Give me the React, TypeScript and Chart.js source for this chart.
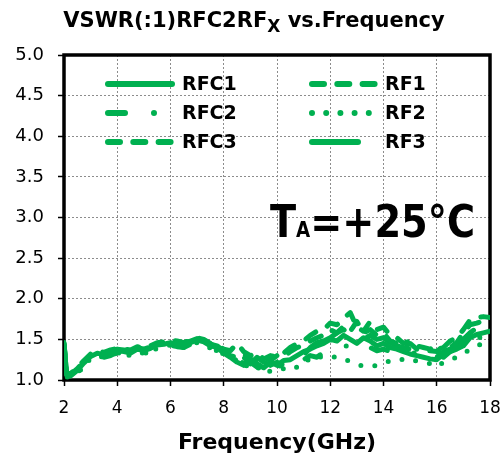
import React, { useEffect, useRef } from "react";
import { Chart, registerables } from "chart.js";

Chart.register(...registerables);

const FREQ = [2.0, 2.1, 2.25, 2.5, 2.75, 3.0, 3.25, 3.5, 3.75, 4.0, 4.25, 4.5, 4.75, 5.0, 5.25, 5.5, 5.75, 6.0, 6.25, 6.5, 6.75, 7.0, 7.25, 7.5, 7.75, 8.0, 8.25, 8.5, 8.75, 9.0, 9.25, 9.5, 9.75, 10.0, 10.25, 10.5, 10.75, 11.0, 11.25, 11.5, 11.75, 12.0, 12.25, 12.5, 12.75, 13.0, 13.25, 13.5, 13.75, 14.0, 14.25, 14.5, 14.75, 15.0, 15.25, 15.5, 15.75, 16.0, 16.25, 16.5, 16.75, 17.0, 17.25, 17.5, 17.75, 18.0];

const RFC1 = [1.45, 1.06, 1.05, 1.12, 1.21, 1.29, 1.33, 1.31, 1.34, 1.36, 1.35, 1.33, 1.38, 1.36, 1.39, 1.43, 1.44, 1.46, 1.45, 1.43, 1.46, 1.49, 1.47, 1.42, 1.40,
  1.33, 1.28, 1.22, 1.18, 1.25, 1.20, 1.15, 1.22, 1.18, 1.24, 1.25, 1.30, 1.35, 1.38, 1.42, 1.45, 1.50, 1.48, 1.55, 1.50, 1.45, 1.52, 1.48, 1.42, 1.45, 1.40, 1.38, 1.35, 1.32, 1.30, 1.28, 1.26, 1.25, 1.32, 1.35, 1.38, 1.42, 1.52, 1.56, 1.58, 1.60];
const RFC2 = [1.40, 1.04, 1.03, 1.08, 1.17, 1.26, 1.31, 1.28, 1.30, 1.34, 1.31, 1.30, 1.35, 1.32, 1.36, 1.40, 1.42, 1.43, 1.41, 1.40, 1.44, 1.46, 1.43, 1.38, 1.36,
  1.34, 1.30, 1.26, 1.20, 1.22, 1.16, 1.20, 1.25, 1.15, 1.20, 1.22, 1.18, 1.25, 1.30, 1.28, 1.34, 1.38, 1.42, 1.40, 1.45, 1.38, 1.42, 1.40, 1.36, 1.38, 1.35, 1.32, 1.30, 1.35, 1.32, 1.28, 1.30, 1.32, 1.28, 1.35, 1.40, 1.38, 1.45, 1.50, 1.55, 1.55];
const RFC3 = [1.46, 1.08, 1.08, 1.15, 1.24, 1.32, 1.36, 1.34, 1.37, 1.39, 1.38, 1.37, 1.41, 1.39, 1.42, 1.46, 1.47, 1.49, 1.48, 1.46, 1.49, 1.52, 1.50, 1.45, 1.43,
  1.38, 1.36, 1.45, 1.35, 1.30, 1.33, 1.26, 1.30, 1.28, 1.33, 1.40, 1.45, 1.48, 1.55, 1.60, 1.62, 1.70, 1.68, 1.76, 1.83, 1.65, 1.60, 1.72, 1.62, 1.65, 1.55, 1.52, 1.45, 1.48, 1.42, 1.40, 1.38, 1.42, 1.40, 1.48, 1.52, 1.62, 1.74, 1.77, 1.78, 1.77];
const RF1 = [1.43, 1.07, 1.06, 1.13, 1.23, 1.30, 1.34, 1.33, 1.35, 1.38, 1.36, 1.35, 1.40, 1.37, 1.41, 1.44, 1.46, 1.48, 1.46, 1.45, 1.48, 1.50, 1.48, 1.44, 1.42,
  1.35, 1.30, 1.28, 1.32, 1.26, 1.22, 1.28, 1.24, 1.30, 1.28, 1.35, 1.40, 1.42, 1.48, 1.52, 1.55, 1.62, 1.58, 1.66, 1.60, 1.72, 1.58, 1.62, 1.55, 1.58, 1.48, 1.45, 1.40, 1.45, 1.38, 1.35, 1.36, 1.35, 1.42, 1.40, 1.46, 1.58, 1.68, 1.70, 1.73, 1.74];
const RF2 = [1.38, 1.04, 1.03, 1.09, 1.18, 1.26, 1.30, 1.28, 1.31, 1.33, 1.32, 1.30, 1.34, 1.33, 1.35, 1.39, 1.41, 1.43, 1.42, 1.40, 1.43, 1.46, 1.44, 1.39, 1.36,
  1.32, 1.28, 1.24, 1.16, 1.20, 1.14, 1.18, 1.10, 1.12, 1.14, 1.12, 1.16, 1.18, 1.28, 1.30, 1.27, 1.29, 1.28, 1.27, 1.22, 1.19, 1.17, 1.16, 1.18, 1.20, 1.24, 1.26, 1.25, 1.22, 1.24, 1.22, 1.20, 1.16, 1.22, 1.25, 1.28, 1.32, 1.38, 1.42, 1.45, 1.47];
const RF3 = [1.44, 1.07, 1.07, 1.14, 1.23, 1.31, 1.35, 1.33, 1.36, 1.38, 1.37, 1.36, 1.40, 1.38, 1.41, 1.45, 1.46, 1.48, 1.47, 1.45, 1.48, 1.51, 1.49, 1.44, 1.42,
  1.36, 1.32, 1.25, 1.28, 1.20, 1.28, 1.22, 1.18, 1.22, 1.18, 1.28, 1.32, 1.30, 1.40, 1.46, 1.48, 1.52, 1.58, 1.62, 1.56, 1.60, 1.50, 1.55, 1.50, 1.52, 1.46, 1.42, 1.40, 1.38, 1.36, 1.34, 1.30, 1.28, 1.35, 1.38, 1.40, 1.50, 1.58, 1.64, 1.66, 1.63];

const X_TICKS = [2, 4, 6, 8, 10, 12, 14, 16, 18];
const Y_TICKS = [1.0, 1.5, 2.0, 2.5, 3.0, 3.5, 4.0, 4.5, 5.0];

const TITLE_MAIN = "VSWR(:1)RFC2RF";
const TITLE_SUB = "X";
const TITLE_END = " vs.Frequency";
const X_TITLE = "Frequency(GHz)";
const NOTE_MAIN = "T";
const NOTE_SUB = "A";
const NOTE_END = "=+25°C";

const GREEN = "#00B050";
const FONT = "'DejaVu Sans', sans-serif";

const SERIES = [
  { label: "RFC1", values: RFC1, dash: [] as number[], col: 0, row: 0 },
  { label: "RFC2", values: RFC2, dash: [17, 29, 0, 29], col: 0, row: 1 },
  { label: "RFC3", values: RFC3, dash: [12, 13.3], col: 0, row: 2 },
  { label: "RF1", values: RF1, dash: [12, 13.3], col: 1, row: 0 },
  { label: "RF2", values: RF2, dash: [0, 14.2], col: 1, row: 1 },
  { label: "RF3", values: RF3, dash: [46, 30], col: 1, row: 2 },
];

const framePlugin = {
  id: "frame",
  beforeDatasetsDraw(chart: any) {
    const { ctx, chartArea: a } = chart;
    ctx.save();
    ctx.strokeStyle = "#000";
    ctx.lineWidth = 3.5;
    ctx.strokeRect(a.left, a.top, a.right - a.left, a.bottom - a.top);
    ctx.restore();
  },
};

const textPlugin = {
  id: "texts",
  afterDraw(chart: any) {
    const { ctx } = chart;
    ctx.save();
    ctx.fillStyle = "#000";
    ctx.textBaseline = "alphabetic";
    ctx.textAlign = "left";

    // Title
    const fMain = `bold 21px ${FONT}`;
    const fSub = `bold 17px ${FONT}`;
    ctx.font = fMain;
    const w1 = ctx.measureText(TITLE_MAIN).width;
    const w3 = ctx.measureText(TITLE_END).width;
    ctx.font = fSub;
    const w2 = ctx.measureText(TITLE_SUB).width;
    const x = 254 - (w1 + w2 + w3) / 2;
    ctx.font = fMain;
    ctx.fillText(TITLE_MAIN, x, 27);
    ctx.font = fSub;
    ctx.fillText(TITLE_SUB, x + w1, 32);
    ctx.font = fMain;
    ctx.fillText(TITLE_END, x + w1 + w2, 27);

    // X axis title
    ctx.font = `bold 22px ${FONT}`;
    ctx.textAlign = "center";
    ctx.fillText(X_TITLE, 277, 449);

    // Annotation
    ctx.textAlign = "left";
    const big = `bold 44px ${FONT}`;
    const small = `bold 21px ${FONT}`;
    ctx.font = big;
    const a1 = ctx.measureText(NOTE_MAIN).width;
    const a3 = ctx.measureText(NOTE_END).width;
    ctx.font = small;
    const a2 = ctx.measureText(NOTE_SUB).width;
    const sx = 205 / (a1 + a2 + a3);
    ctx.translate(270, 237);
    ctx.scale(sx, 1);
    ctx.font = big;
    ctx.fillText(NOTE_MAIN, 0, 0);
    ctx.font = small;
    ctx.fillText(NOTE_SUB, a1, 0);
    ctx.font = big;
    ctx.fillText(NOTE_END, a1 + a2, 0);
    ctx.restore();

    // Legend
    ctx.save();
    const colLine = [[105, 172], [309, 375]];
    const colText = [182, 385];
    const rowY = [84, 113, 142];
    ctx.strokeStyle = GREEN;
    ctx.lineWidth = 6;
    ctx.lineCap = "round";
    ctx.font = `bold 19px ${FONT}`;
    ctx.textBaseline = "middle";
    ctx.fillStyle = "#000";
    SERIES.forEach((s) => {
      const y = rowY[s.row];
      const [x0, x1] = colLine[s.col];
      ctx.setLineDash(s.dash);
      ctx.beginPath();
      ctx.moveTo(x0 + 3, y);
      ctx.lineTo(x1, y);
      ctx.stroke();
      ctx.fillText(s.label, colText[s.col], y + 1);
    });
    ctx.restore();
  },
};

export default function App() {
  const ref = useRef<HTMLCanvasElement>(null);
  useEffect(() => {
    const canvas = ref.current!;
    const chart = new Chart(canvas, {
      type: "line",
      data: {
        datasets: SERIES.map((s) => ({
          label: s.label,
          data: FREQ.map((f, i) => ({ x: f, y: s.values[i] })),
          borderColor: GREEN,
          backgroundColor: GREEN,
          borderWidth: 5,
          borderDash: s.dash,
          borderCapStyle: "round",
          borderJoinStyle: "round",
          pointRadius: 0,
          tension: 0,
          fill: false,
        })) as any,
      },
      options: {
        animation: false,
        responsive: true,
        maintainAspectRatio: false,
        layout: { padding: { top: 55, right: 14, left: 0, bottom: 0 } },
        plugins: {
          legend: { display: false },
          title: { display: false },
          tooltip: { enabled: false },
        },
        scales: {
          x: {
            type: "linear",
            min: 2,
            max: 18,
            afterFit: (s: any) => { s.height = 81; s.paddingLeft = 0; s.paddingRight = 0; },
            afterBuildTicks: (s: any) => { s.ticks = X_TICKS.map((v) => ({ value: v })); },
            ticks: {
              font: { family: FONT, size: 17 },
              color: "#000",
              padding: 12,
              maxRotation: 0,
              autoSkip: false,
              callback: (v: any) => String(v),
            },
            grid: { color: "#8c8c8c", lineWidth: 1, tickLength: 6, tickColor: "#000", tickWidth: 1.5 },
            border: { display: false, dash: [2, 2] },
          },
          y: {
            type: "linear",
            min: 1,
            max: 5,
            afterFit: (s: any) => { s.width = 64; s.paddingTop = 0; s.paddingBottom = 0; },
            afterBuildTicks: (s: any) => { s.ticks = Y_TICKS.map((v) => ({ value: v })); },
            ticks: {
              font: { family: FONT, size: 18 },
              color: "#000",
              padding: 14,
              autoSkip: false,
              callback: (v: any) => Number(v).toFixed(1),
            },
            grid: { color: "#8c8c8c", lineWidth: 1, tickLength: 6, tickColor: "#000", tickWidth: 1.5 },
            border: { display: false, dash: [2, 2] },
          },
        },
      } as any,
      plugins: [framePlugin, textPlugin],
    });
    return () => chart.destroy();
  }, []);
  return (
    <div style={{ position: "fixed", left: 0, top: 0, width: 504, height: 461, background: "#fff" }}>
      <canvas ref={ref} />
    </div>
  );
}
